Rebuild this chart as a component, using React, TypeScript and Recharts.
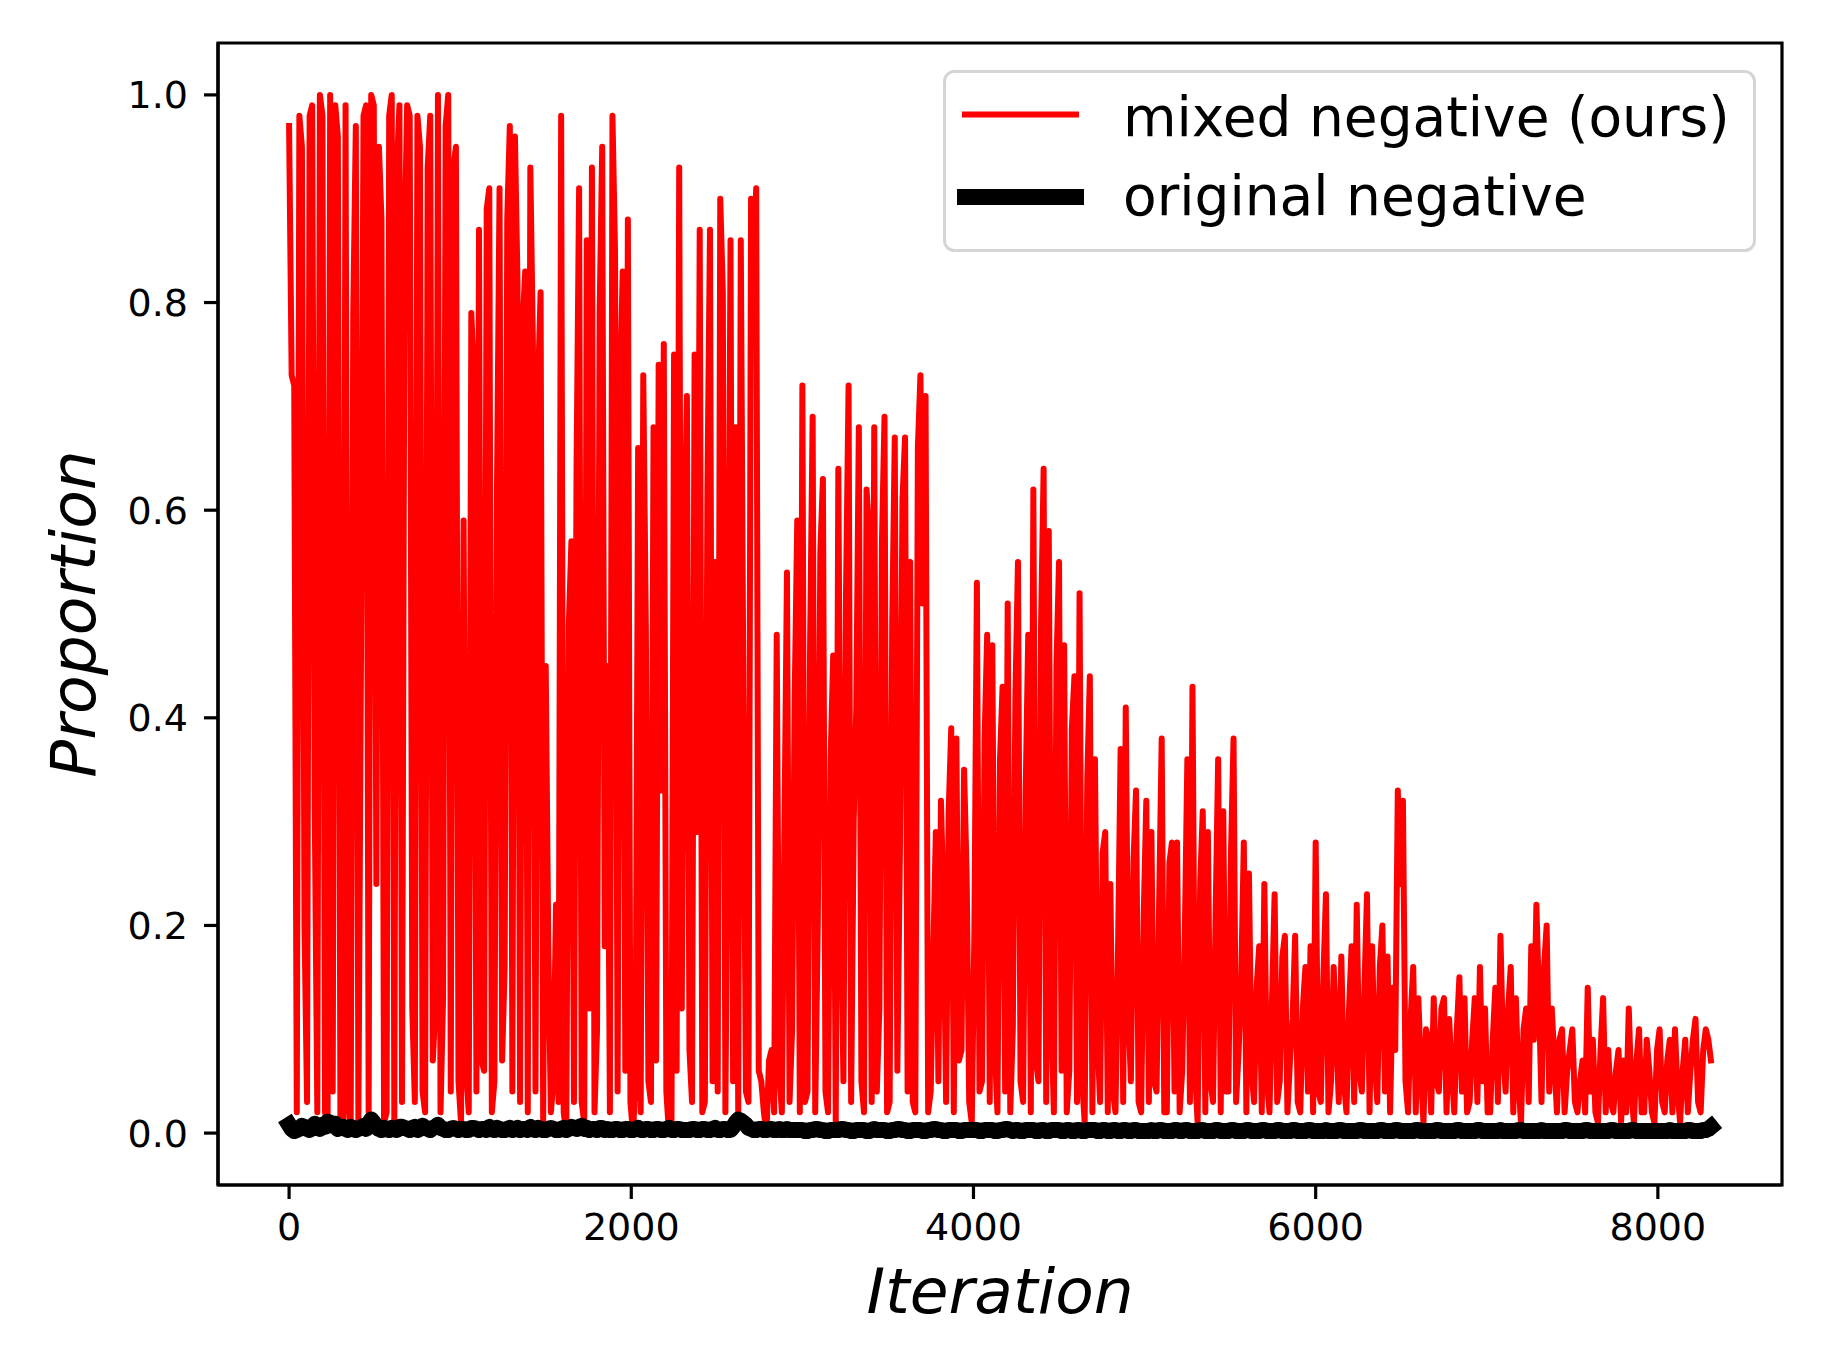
import React from 'react';
import { LineChart, Line, XAxis, YAxis, ReferenceArea, Legend, Label } from 'recharts';

const ITER_STEP = 15;

const mixed0k = [0.97, 0.73, 0.72, 0.02, 0.98, 0.95, 0.2, 0.03, 0.98, 0.99, 0.31, 0.02, 1.0, 0.98, 0.02, 0.01, 1.0, 0.04, 0.99, 0.96, 0.01, 0.0, 0.99, 0.03, 0.0, 0.79, 0.97, 0.01, 0.45, 0.98, 0.99, 0.02, 1.0, 0.99, 0.24, 0.95, 0.88, 0.01, 0.02, 0.98, 1.0, 0.01, 0.93, 0.99, 0.03, 0.86, 0.99, 0.98, 0.12, 0.03, 0.98, 0.95, 0.04, 0.02, 0.93, 0.98, 0.07, 0.12, 1.0, 0.02, 0.13, 0.97, 1.0, 0.04, 0.93, 0.95, 0.05, 0.01];
const mixed1k = [0.59, 0.06, 0.02, 0.79, 0.73, 0.04, 0.87, 0.07, 0.06, 0.89, 0.91, 0.02, 0.05, 0.62, 0.91, 0.07, 0.16, 0.88, 0.97, 0.04, 0.96, 0.82, 0.03, 0.78, 0.83, 0.02, 0.93, 0.76, 0.04, 0.72, 0.81, 0.01, 0.45, 0.18, 0.02, 0.05, 0.22, 0.03, 0.98, 0.02, 0.0, 0.49, 0.57, 0.03, 0.64, 0.91, 0.03, 0.01, 0.86, 0.12, 0.93, 0.02, 0.1, 0.79, 0.95, 0.18, 0.45, 0.02, 0.98, 0.85, 0.04, 0.72, 0.83, 0.06, 0.88, 0.03];
const mixed2k = [0.0, 0.05, 0.66, 0.02, 0.73, 0.49, 0.05, 0.03, 0.68, 0.07, 0.74, 0.33, 0.76, 0.04, 0.0, 0.01, 0.75, 0.06, 0.93, 0.12, 0.56, 0.71, 0.08, 0.03, 0.75, 0.29, 0.87, 0.02, 0.03, 0.62, 0.87, 0.05, 0.55, 0.04, 0.9, 0.81, 0.02, 0.36, 0.86, 0.05, 0.68, 0.02, 0.86, 0.43, 0.04, 0.03, 0.9, 0.84, 0.91, 0.06, 0.05, 0.02, 0.0, 0.07, 0.08, 0.02, 0.48, 0.06, 0.02, 0.29, 0.54, 0.03, 0.1, 0.42, 0.59, 0.02];
const mixed3k = [0.72, 0.03, 0.04, 0.47, 0.69, 0.02, 0.2, 0.56, 0.63, 0.04, 0.02, 0.36, 0.46, 0.01, 0.64, 0.22, 0.05, 0.52, 0.72, 0.03, 0.3, 0.41, 0.68, 0.05, 0.02, 0.62, 0.58, 0.03, 0.68, 0.04, 0.12, 0.57, 0.69, 0.02, 0.03, 0.49, 0.67, 0.06, 0.27, 0.61, 0.67, 0.04, 0.55, 0.03, 0.02, 0.66, 0.73, 0.51, 0.71, 0.02, 0.04, 0.17, 0.29, 0.05, 0.32, 0.22, 0.03, 0.31, 0.39, 0.02, 0.38, 0.07, 0.08, 0.35, 0.25, 0.03, 0.01, 0.19];
const mixed4k = [0.53, 0.04, 0.05, 0.38, 0.48, 0.03, 0.47, 0.08, 0.02, 0.36, 0.43, 0.04, 0.51, 0.02, 0.1, 0.42, 0.55, 0.05, 0.03, 0.33, 0.48, 0.02, 0.62, 0.07, 0.05, 0.49, 0.64, 0.03, 0.58, 0.11, 0.02, 0.45, 0.55, 0.06, 0.47, 0.02, 0.06, 0.39, 0.44, 0.03, 0.52, 0.05, 0.01, 0.34, 0.44, 0.02, 0.36, 0.09, 0.03, 0.27, 0.29, 0.02, 0.24, 0.04, 0.02, 0.18, 0.37, 0.03, 0.41, 0.12, 0.05, 0.26, 0.33, 0.03, 0.02, 0.21];
const mixed5k = [0.32, 0.03, 0.29, 0.05, 0.04, 0.22, 0.38, 0.02, 0.02, 0.26, 0.28, 0.04, 0.28, 0.02, 0.06, 0.19, 0.36, 0.03, 0.43, 0.06, 0.01, 0.24, 0.31, 0.02, 0.29, 0.05, 0.03, 0.21, 0.36, 0.02, 0.31, 0.04, 0.04, 0.27, 0.38, 0.03, 0.08, 0.15, 0.28, 0.02, 0.25, 0.06, 0.03, 0.14, 0.18, 0.02, 0.24, 0.05, 0.02, 0.13, 0.23, 0.03, 0.05, 0.17, 0.19, 0.02, 0.07, 0.11, 0.19, 0.03, 0.02, 0.12, 0.16, 0.04, 0.18, 0.02];
const mixed6k = [0.28, 0.04, 0.03, 0.15, 0.23, 0.02, 0.05, 0.16, 0.1, 0.03, 0.17, 0.05, 0.02, 0.12, 0.18, 0.03, 0.22, 0.06, 0.04, 0.14, 0.23, 0.02, 0.18, 0.07, 0.03, 0.16, 0.2, 0.04, 0.17, 0.02, 0.14, 0.08, 0.33, 0.24, 0.32, 0.05, 0.02, 0.11, 0.16, 0.02, 0.13, 0.06, 0.01, 0.1, 0.09, 0.02, 0.13, 0.05, 0.04, 0.12, 0.13, 0.02, 0.11, 0.06, 0.02, 0.1, 0.15, 0.04, 0.13, 0.02, 0.03, 0.09, 0.13, 0.03, 0.16, 0.05, 0.12, 0.02];
const mixed7k = [0.02, 0.09, 0.14, 0.03, 0.19, 0.08, 0.04, 0.12, 0.16, 0.02, 0.13, 0.05, 0.01, 0.1, 0.12, 0.03, 0.18, 0.09, 0.22, 0.13, 0.03, 0.16, 0.2, 0.04, 0.12, 0.07, 0.02, 0.09, 0.1, 0.02, 0.06, 0.08, 0.1, 0.03, 0.02, 0.05, 0.07, 0.02, 0.14, 0.04, 0.09, 0.02, 0.01, 0.08, 0.13, 0.02, 0.08, 0.03, 0.02, 0.06, 0.08, 0.01, 0.07, 0.02, 0.12, 0.04, 0.01, 0.07, 0.1, 0.02, 0.02, 0.09, 0.06, 0.02, 0.01, 0.08];
const mixed8k = [0.1, 0.03, 0.02, 0.07, 0.09, 0.02, 0.1, 0.04, 0.01, 0.06, 0.09, 0.02, 0.06, 0.09, 0.11, 0.03, 0.02, 0.08, 0.1, 0.09, 0.07];

const orig0k = [0.008, 0.004, 0.002, 0.003, 0.004, 0.007, 0.006, 0.004, 0.003, 0.006, 0.009, 0.005, 0.004, 0.008, 0.006, 0.011, 0.01, 0.007, 0.009, 0.004, 0.005, 0.006, 0.004, 0.003, 0.006, 0.005, 0.003, 0.004, 0.005, 0.007, 0.004, 0.009, 0.013, 0.01, 0.006, 0.004, 0.003, 0.005, 0.004, 0.003, 0.005, 0.004, 0.003, 0.006, 0.006, 0.005, 0.004, 0.003, 0.005, 0.006, 0.003, 0.004, 0.007, 0.005, 0.004, 0.003, 0.005, 0.006, 0.008, 0.005, 0.004, 0.003, 0.003, 0.004, 0.005, 0.004, 0.003, 0.004];
const orig1k = [0.004, 0.003, 0.003, 0.005, 0.005, 0.004, 0.003, 0.004, 0.004, 0.003, 0.006, 0.004, 0.003, 0.005, 0.004, 0.003, 0.003, 0.004, 0.005, 0.003, 0.004, 0.005, 0.003, 0.004, 0.004, 0.003, 0.006, 0.004, 0.003, 0.005, 0.004, 0.003, 0.003, 0.004, 0.005, 0.004, 0.003, 0.003, 0.004, 0.005, 0.003, 0.004, 0.006, 0.005, 0.004, 0.006, 0.007, 0.004, 0.005, 0.003, 0.004, 0.004, 0.003, 0.005, 0.005, 0.003, 0.004, 0.003, 0.003, 0.004, 0.004, 0.003, 0.003, 0.004, 0.004, 0.003];
const orig2k = [0.003, 0.004, 0.005, 0.003, 0.003, 0.004, 0.004, 0.003, 0.003, 0.004, 0.004, 0.003, 0.003, 0.004, 0.005, 0.003, 0.003, 0.004, 0.004, 0.003, 0.003, 0.003, 0.003, 0.004, 0.004, 0.003, 0.003, 0.004, 0.004, 0.003, 0.003, 0.004, 0.005, 0.003, 0.003, 0.004, 0.004, 0.003, 0.003, 0.006, 0.01, 0.013, 0.012, 0.01, 0.008, 0.005, 0.004, 0.003, 0.003, 0.004, 0.004, 0.003, 0.003, 0.004, 0.004, 0.003, 0.003, 0.004, 0.003, 0.003, 0.004, 0.003, 0.003, 0.003, 0.003, 0.003];
const orig3k = [0.003, 0.002, 0.002, 0.003, 0.003, 0.004, 0.004, 0.003, 0.003, 0.002, 0.002, 0.003, 0.003, 0.003, 0.003, 0.004, 0.004, 0.003, 0.003, 0.002, 0.002, 0.003, 0.003, 0.003, 0.003, 0.002, 0.002, 0.003, 0.004, 0.003, 0.003, 0.003, 0.003, 0.002, 0.002, 0.003, 0.003, 0.004, 0.004, 0.003, 0.003, 0.002, 0.002, 0.003, 0.003, 0.003, 0.003, 0.002, 0.002, 0.003, 0.003, 0.004, 0.004, 0.003, 0.003, 0.002, 0.002, 0.003, 0.003, 0.003, 0.003, 0.002, 0.002, 0.003, 0.003, 0.003, 0.003, 0.003];
const orig4k = [0.003, 0.002, 0.002, 0.003, 0.003, 0.003, 0.003, 0.002, 0.002, 0.003, 0.003, 0.004, 0.004, 0.003, 0.002, 0.003, 0.003, 0.002, 0.002, 0.003, 0.003, 0.003, 0.003, 0.002, 0.002, 0.003, 0.003, 0.002, 0.002, 0.003, 0.003, 0.003, 0.003, 0.002, 0.002, 0.003, 0.003, 0.002, 0.002, 0.003, 0.003, 0.002, 0.002, 0.003, 0.003, 0.003, 0.003, 0.002, 0.002, 0.003, 0.003, 0.002, 0.002, 0.003, 0.003, 0.002, 0.002, 0.003, 0.003, 0.002, 0.002, 0.003, 0.003, 0.002, 0.002, 0.002];
const orig5k = [0.002, 0.002, 0.003, 0.002, 0.002, 0.003, 0.003, 0.002, 0.002, 0.002, 0.002, 0.003, 0.003, 0.002, 0.002, 0.003, 0.003, 0.002, 0.002, 0.002, 0.002, 0.003, 0.003, 0.002, 0.002, 0.002, 0.002, 0.003, 0.003, 0.002, 0.002, 0.002, 0.002, 0.003, 0.003, 0.002, 0.002, 0.002, 0.002, 0.003, 0.003, 0.002, 0.002, 0.002, 0.002, 0.003, 0.003, 0.002, 0.002, 0.002, 0.002, 0.003, 0.003, 0.002, 0.002, 0.002, 0.002, 0.003, 0.003, 0.002, 0.002, 0.002, 0.002, 0.003, 0.003, 0.002];
const orig6k = [0.002, 0.002, 0.002, 0.002, 0.003, 0.002, 0.002, 0.002, 0.002, 0.003, 0.003, 0.002, 0.002, 0.002, 0.002, 0.002, 0.002, 0.003, 0.003, 0.002, 0.002, 0.002, 0.002, 0.002, 0.002, 0.003, 0.003, 0.002, 0.002, 0.002, 0.002, 0.003, 0.003, 0.002, 0.002, 0.002, 0.002, 0.002, 0.002, 0.003, 0.003, 0.002, 0.002, 0.002, 0.002, 0.002, 0.002, 0.003, 0.003, 0.002, 0.002, 0.002, 0.002, 0.002, 0.002, 0.003, 0.003, 0.002, 0.002, 0.002, 0.002, 0.002, 0.002, 0.003, 0.003, 0.002, 0.002, 0.002];
const orig7k = [0.002, 0.002, 0.002, 0.002, 0.003, 0.002, 0.002, 0.002, 0.002, 0.002, 0.002, 0.003, 0.003, 0.002, 0.002, 0.002, 0.002, 0.002, 0.002, 0.002, 0.003, 0.002, 0.002, 0.002, 0.002, 0.002, 0.002, 0.002, 0.002, 0.003, 0.003, 0.002, 0.002, 0.002, 0.002, 0.002, 0.002, 0.003, 0.003, 0.002, 0.002, 0.002, 0.002, 0.002, 0.002, 0.002, 0.002, 0.003, 0.003, 0.002, 0.002, 0.002, 0.002, 0.002, 0.002, 0.003, 0.003, 0.002, 0.002, 0.002, 0.002, 0.002, 0.002, 0.002, 0.002, 0.002];
const orig8k = [0.002, 0.002, 0.002, 0.002, 0.003, 0.002, 0.002, 0.002, 0.002, 0.002, 0.002, 0.003, 0.003, 0.002, 0.002, 0.002, 0.002, 0.003, 0.003, 0.004, 0.006];

const mixedNegative = [...mixed0k, ...mixed1k, ...mixed2k, ...mixed3k, ...mixed4k, ...mixed5k, ...mixed6k, ...mixed7k, ...mixed8k];
const originalNegative = [...orig0k, ...orig1k, ...orig2k, ...orig3k, ...orig4k, ...orig5k, ...orig6k, ...orig7k, ...orig8k];

const xTicks = [0, 2000, 4000, 6000, 8000];
const yTicks = [0, 0.2, 0.4, 0.6, 0.8, 1.0];
const xDomain: [number, number] = [-415.5, 8725.5];
const yDomain: [number, number] = [-0.05, 1.05];

const seriesNames = ['mixed negative (ours)', 'original negative'];

const data = mixedNegative.map((v, i) => ({
  it: i * ITER_STEP,
  mixed: v,
  original: originalNegative[i],
}));

const FONT = 'DejaVu Sans';
const tickStyle = { fill: '#000', fontSize: 38, fontFamily: FONT };
const axisLine = { stroke: '#000', strokeWidth: 3.2 };

const XLabelContent = (props: any) => {
  const vb = props.viewBox || {};
  return (
    <text
      x={vb.x + vb.width / 2}
      y={vb.y + 128}
      textAnchor="middle"
      fontSize={63}
      fontStyle="italic"
      fontFamily={FONT}
      fill="#000"
    >
      Iteration
    </text>
  );
};

const YLabelContent = (props: any) => {
  const vb = props.viewBox || {};
  const cx = vb.x + 77;
  const cy = vb.y + vb.height / 2;
  return (
    <text
      x={cx}
      y={cy}
      transform={`rotate(-90, ${cx}, ${cy})`}
      textAnchor="middle"
      fontSize={63}
      fontStyle="italic"
      fontFamily={FONT}
      fill="#000"
    >
      Proportion
    </text>
  );
};

const LegendBox = () => (
  <svg width={813} height={182} style={{ display: 'block' }}>
    <rect x={1.5} y={1.5} width={810} height={179} rx={10} ry={10} fill="#fff" fillOpacity={0.8} stroke="#d5d5d5" strokeWidth={3} />
    <line x1={22} y1={44.5} x2={133} y2={44.5} stroke="#ff0000" strokeWidth={6} strokeLinecap="square" />
    <text x={180} y={66} fontSize={55} fontFamily={FONT} fill="#000">{seriesNames[0]}</text>
    <line x1={22} y1={127} x2={133} y2={127} stroke="#000" strokeWidth={16} strokeLinecap="square" />
    <text x={180} y={145} fontSize={55} fontFamily={FONT} fill="#000">{seriesNames[1]}</text>
  </svg>
);

export default function App() {
  return (
    <div style={{ position: 'absolute', left: 0, top: 0, width: 1824, height: 1368, background: '#fff' }}>
      <LineChart width={1824} height={1368} data={data} margin={{ top: 43, right: 42, bottom: 33, left: 18 }}>
        <XAxis
          dataKey="it"
          type="number"
          domain={xDomain}
          ticks={xTicks}
          allowDataOverflow
          height={150}
          tick={tickStyle}
          tickSize={14}
          tickMargin={14}
          axisLine={axisLine}
          tickLine={axisLine}
          label={<Label content={XLabelContent} />}
        />
        <YAxis
          type="number"
          domain={yDomain}
          ticks={yTicks}
          allowDataOverflow
          width={200}
          tick={tickStyle}
          tickSize={14}
          tickMargin={16}
          tickFormatter={(v: number) => v.toFixed(1)}
          axisLine={axisLine}
          tickLine={axisLine}
          label={<Label content={YLabelContent} />}
        />
        <ReferenceArea
          x1={xDomain[0]}
          x2={xDomain[1]}
          y1={yDomain[0]}
          y2={yDomain[1]}
          fill="none"
          stroke="#000"
          strokeWidth={3.2}
          ifOverflow="visible"
        />
        <Line
          type="linear"
          dataKey="mixed"
          name={seriesNames[0]}
          stroke="#ff0000"
          strokeWidth={6}
          strokeLinejoin="round"
          strokeLinecap="square"
          dot={false}
          activeDot={false}
          isAnimationActive={false}
        />
        <Line
          type="linear"
          dataKey="original"
          name={seriesNames[1]}
          stroke="#000"
          strokeWidth={16}
          strokeLinejoin="round"
          strokeLinecap="square"
          dot={false}
          activeDot={false}
          isAnimationActive={false}
        />
        <Legend
          layout="vertical"
          verticalAlign="middle"
          align="center"
          wrapperStyle={{ left: 943, top: 70, width: 813, height: 182 }}
          content={LegendBox}
        />
      </LineChart>
    </div>
  );
}
